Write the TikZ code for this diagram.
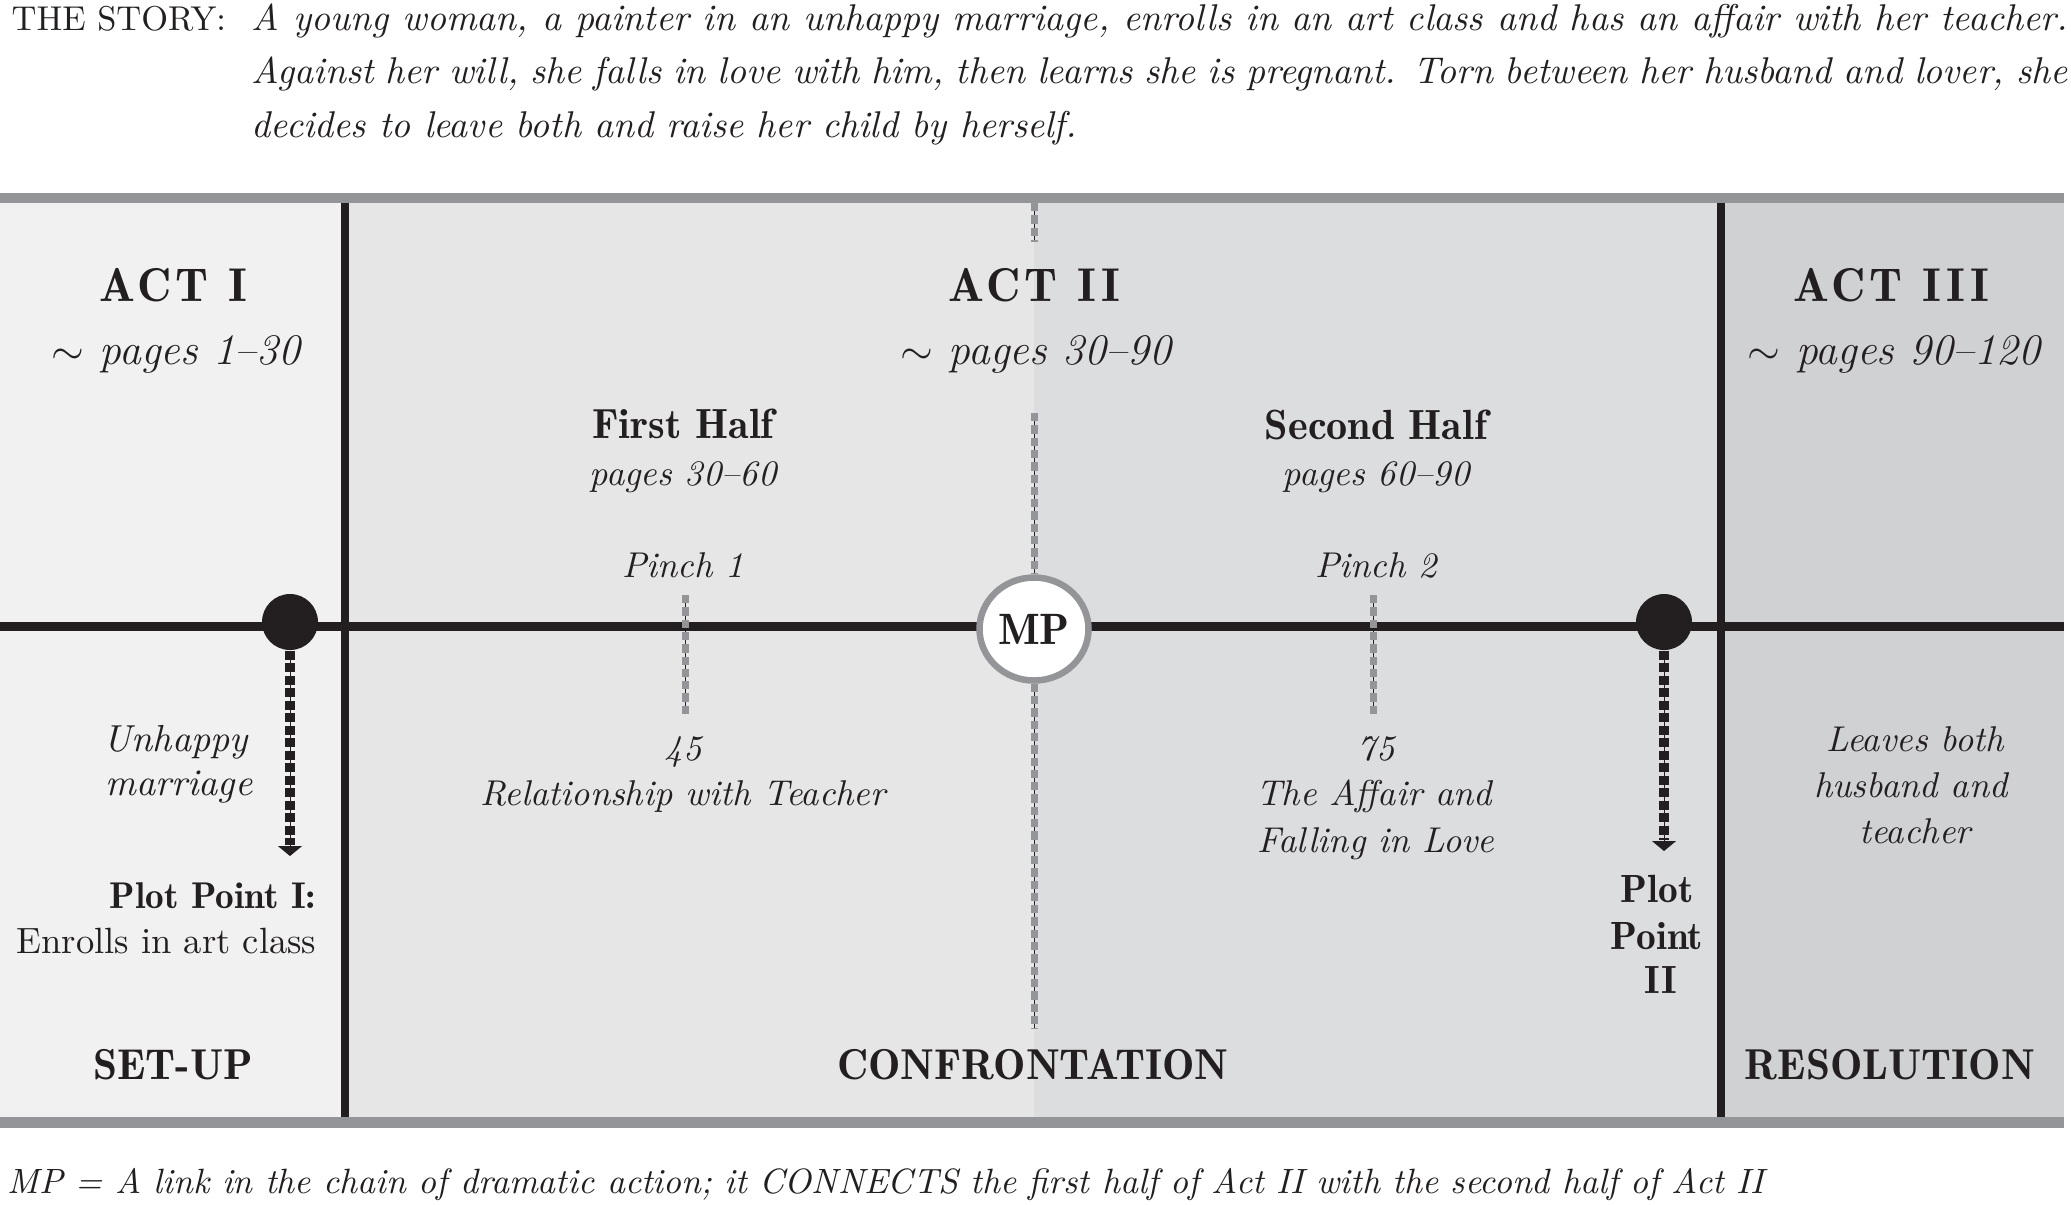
\documentclass[tikz,border=0pt]{standalone}
\usepackage{fontspec}
\newfontfamily\demifont{lmromandemi10-regular.otf}
\usetikzlibrary{shapes.geometric,arrows.meta}
\definecolor{bandgray}{HTML}{939598}
\definecolor{inkblack}{HTML}{231F20}
\definecolor{actone}{HTML}{F1F1F2}
\definecolor{acttwoa}{HTML}{E6E6E7}
\definecolor{acttwob}{HTML}{DCDDDF}
\definecolor{actthree}{HTML}{D0D1D3}
\tikzset{
  lbl/.style={inner sep=0pt, anchor=base, text=inkblack},
  itl/.style={lbl, font=\fontsize{10.2}{12}\selectfont\itshape},
  bfl/.style={lbl, font=\fontsize{12}{14}\demifont},
  ppl/.style={lbl, font=\fontsize{11.2}{14}\demifont},
  caps/.style={lbl, font=\fontsize{12.3}{14}\demifont},
  acttitle/.style={lbl, font=\fontsize{13.5}{16}\demifont\addfontfeature{LetterSpace=8}},
  actpages/.style={lbl, font=\fontsize{12.4}{14}\selectfont\itshape},
  storyfont/.style={inner sep=0pt, anchor=base west, text=inkblack, font=\fontsize{10.6}{12.5}\selectfont\itshape},
  hair/.style={draw=inkblack, line width=0.1mm},
  gdash/.style={draw=bandgray, line width=0.7mm, dash pattern=on 0.83mm off 0.4mm},
  bdash/.style={draw=inkblack, line width=1.0mm, dash pattern=on 0.9mm off 0.35mm},
  ppdot/.style={ellipse, fill=inkblack, minimum width=5.6mm, minimum height=5.6mm, inner sep=0pt},
  divider/.style={draw=inkblack, line width=0.75mm},
}
\begin{document}
\begin{tikzpicture}[x=0.1mm, y=-0.1mm]
\useasboundingbox (0,0) rectangle (2071,1204);
% panels
\fill[actone]   (0,203) rectangle (345,1117);
\fill[acttwoa]  (345,203) rectangle (1034,1117);
\fill[acttwob]  (1034,203) rectangle (1721,1117);
\fill[actthree] (1721,203) rectangle (2064,1117);
% bands
\fill[bandgray] (0,193) rectangle (2064,203);
\fill[bandgray] (0,1117) rectangle (2064,1128);
% dividers and timeline
\coordinate (d1t) at (345,203); \coordinate (d1b) at (345,1117);
\coordinate (d2t) at (1721,203); \coordinate (d2b) at (1721,1117);
\coordinate (tl0) at (0,626.5); \coordinate (tl1) at (2064,626.5);
\draw[divider] (d1t) -- (d1b);
\draw[divider] (d2t) -- (d2b);
\draw[draw=inkblack, line width=0.9mm] (tl0) -- (tl1);
% MP line
\node[ellipse, draw=bandgray, line width=0.65mm, fill=white, minimum width=10.9mm, minimum height=10.3mm, inner sep=0pt,
      font=\fontsize{12.5}{14}\demifont, text=inkblack] (mp) at (1034,629) {MP};
\coordinate (mpa1) at (1034,203); \coordinate (mpa2) at (1034,242);
\coordinate (mpb1) at (1034,413); \coordinate (mpc2) at (1034,1029);
\draw[hair] (mpa1) -- (mpa2);
\draw[gdash] (mpa1) -- (mpa2);
\draw[hair] (mpb1) -- (mp.north);
\draw[gdash] (mpb1) -- (mp.north);
\draw[hair] (mp.south) -- (mpc2);
\draw[gdash] (mp.south) -- (mpc2);
% pinch lines
\coordinate (p1t) at (685,595); \coordinate (p1b) at (685,714);
\coordinate (p2t) at (1373,595); \coordinate (p2b) at (1373,714);
\draw[hair] (p1t) -- (p1b); \draw[gdash] (p1t) -- (p1b);
\draw[hair] (p2t) -- (p2b); \draw[gdash] (p2t) -- (p2b);
% plot points
\node[ppdot] (pp1) at (290,622) {};
\node[ppdot] (pp2) at (1664,622) {};
\coordinate (pp1tip) at (290,856); \coordinate (pp1stop) at (290,845);
\coordinate (pp2tip) at (1664,851); \coordinate (pp2stop) at (1664,840);
\draw[hair, -{Triangle[width=2.4mm,length=1.0mm]}] (pp1.south) -- (pp1tip);
\draw[bdash] (pp1.south) -- (pp1stop);
\draw[hair, -{Triangle[width=2.4mm,length=1.0mm]}] (pp2.south) -- (pp2tip);
\draw[bdash] (pp2.south) -- (pp2stop);
% story
\node[inner sep=0pt, anchor=base west, text=inkblack, font=\fontsize{9.8}{12}\selectfont] (storyhead) at (11,30) {THE STORY:};
\node[storyfont] (story1) at (251,30) {\makebox[181.6mm][s]{A young woman, a painter in an unhappy marriage, enrolls in an art class and has an affair with her teacher.}};
\node[storyfont] (story2) at (251,83) {\makebox[181.6mm][s]{Against her will, she falls in love with him, then learns she is pregnant. Torn between her husband and lover, she}};
\node[storyfont] (story3) at (251,137) {decides to leave both and raise her child by herself.};
% act titles
\node[acttitle] (act1) at (173,301) {ACT I};
\node[acttitle] (act2) at (1034,301) {ACT II};
\node[acttitle] (act3) at (1891,301) {ACT III};
\node[actpages] (pg1) at (176,364) {$\sim$ pages 1--30};
\node[actpages] (pg2) at (1036,364) {$\sim$ pages 30--90};
\node[actpages] (pg3) at (1894,364) {$\sim$ pages 90--120};
% halves
\node[bfl] (fh) at (683,438) {First Half};
\node[bfl] (sh) at (1376,439) {Second Half};
\node[itl] (fhp) at (683,485) {pages 30--60};
\node[itl] (shp) at (1376,485) {pages 60--90};
\node[itl] (pn1) at (683,577) {Pinch 1};
\node[itl] (pn2) at (1376,577) {Pinch 2};
\node[itl] (n45) at (683,760) {45};
\node[itl] (rel) at (683,805) {Relationship with Teacher};
\node[itl] (n75) at (1376,760) {75};
\node[itl] (aff1) at (1374,805) {The Affair and};
\node[itl] (aff2) at (1376,852) {Falling in Love};
% act I lower
\node[itl, font=\fontsize{10.7}{12}\selectfont\itshape] (unh1) at (176,751) {Unhappy};
\node[itl, font=\fontsize{10.7}{12}\selectfont\itshape] (unh2) at (179,795) {marriage};
\node[lbl, anchor=base east, font=\fontsize{10.6}{14}\demifont] (ppi) at (317,908) {Plot Point I:};
\node[lbl, anchor=base east, font=\fontsize{10.4}{12.5}\selectfont] (enr) at (317,953) {Enrolls in art class};
% act II/III lower
\node[ppl] (ppii1) at (1657,902) {Plot};
\node[ppl] (ppii2) at (1657,949) {Point};
\node[ppl] (ppii3) at (1661,993) {II};
\node[itl] (lv1) at (1915,751) {Leaves both};
\node[itl] (lv2) at (1911,797) {husband and};
\node[itl] (lv3) at (1915,843) {teacher};
% bottom captions
\node[caps] (setup) at (173,1079) {SET-UP};
\node[caps] (conf) at (1033,1079) {CONFRONTATION};
\node[caps] (reso) at (1890,1079) {RESOLUTION};
% footer
\node[inner sep=0pt, anchor=base west, text=inkblack, font=\fontsize{10}{12}\selectfont\itshape] (foot) at (7,1193) {MP = A link in the chain of dramatic action; it CONNECTS the first half of Act II with the second half of Act II};
\end{tikzpicture}
\end{document}
